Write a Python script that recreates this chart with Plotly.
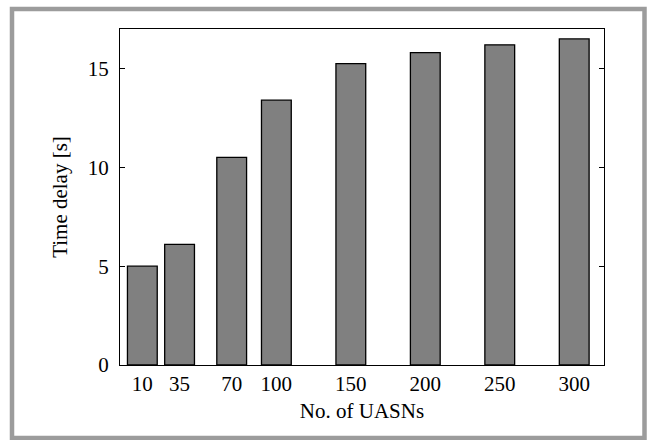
import plotly.graph_objects as go

nodes = [10, 35, 70, 100, 150, 200, 250, 300]
delay = [5.0, 6.1, 10.5, 13.4, 15.25, 15.8, 16.2, 16.5]
x_ticks = [10, 35, 70, 100, 150, 200, 250, 300]
y_ticks = [0, 5, 10, 15]

W, H = 647, 440
ML, MR, MT, MB = 120, 43, 29, 75
PW, PH = W - ML - MR, H - MT - MB

def px(x):
    return (x - ML) / PW

def py(y):
    return (H - MB - y) / PH

font = dict(family="Liberation Serif, Times New Roman, serif", size=21, color="black")

fig = go.Figure(go.Bar(
    x=nodes, y=delay, width=20,
    marker=dict(color="#808080", line=dict(color="black", width=1.3)),
))

fig.update_layout(
    width=W, height=H,
    margin=dict(l=ML, r=MR, t=MT, b=MB),
    paper_bgcolor="white", plot_bgcolor="white",
    font=font, showlegend=False,
    xaxis=dict(range=[-5, 320], tickvals=x_ticks, ticktext=[str(v) for v in x_ticks],
               showline=True, linecolor="black", linewidth=1, mirror=True,
               ticks="", showgrid=False, zeroline=False,
               title=dict(text="No. of UASNs", standoff=8, font=font)),
    yaxis=dict(range=[0, 17], tickvals=y_ticks,
               showline=True, linecolor="black", linewidth=1, mirror="ticks",
               ticks="inside", ticklen=5, tickcolor="black", tickwidth=1,
               ticklabelstandoff=6,
               showgrid=False, zeroline=False,
               title=dict(text="Time delay [s]", standoff=14, font=font)),
    shapes=[dict(type="rect", xref="paper", yref="paper",
                 x0=px(12), x1=px(644.5), y0=py(438), y1=py(9),
                 line=dict(color="#9c9c9c", width=4.5), fillcolor="rgba(0,0,0,0)",
                 layer="below")],
)

fig.write_html("out.html", config={"displayModeBar": False},
               post_script="document.body.style.margin='0';")
